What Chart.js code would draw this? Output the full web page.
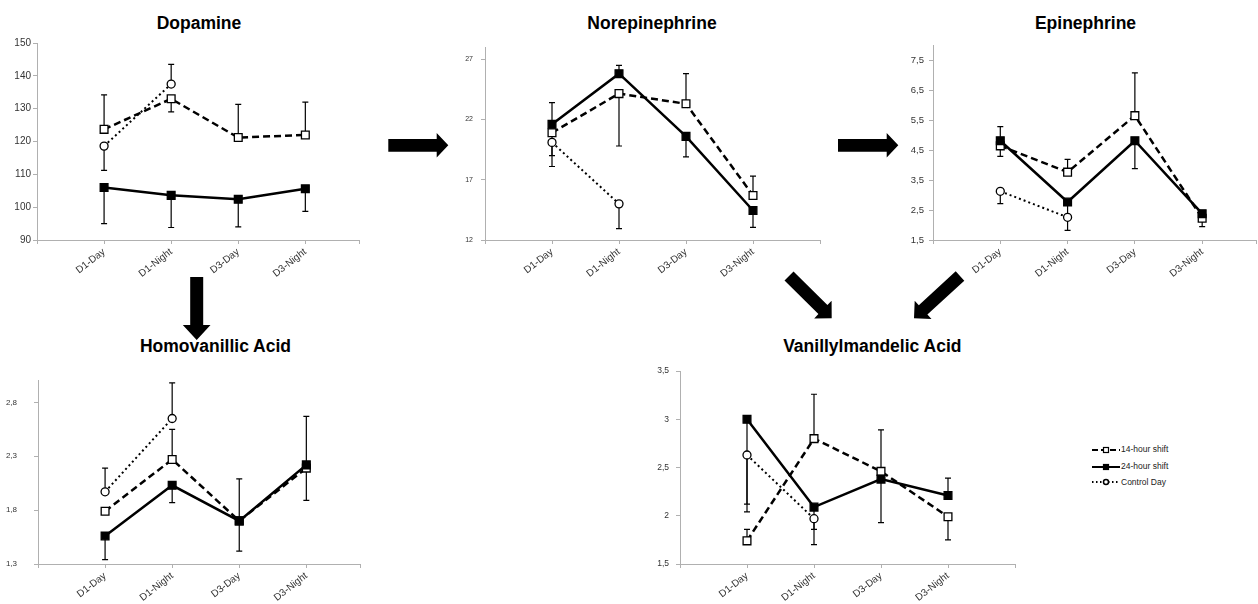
<!DOCTYPE html>
<html>
<head>
<meta charset="utf-8">
<script src="https://cdn.jsdelivr.net/npm/chart.js@4.4.1/dist/chart.umd.min.js"></script>
<style>
html, body { margin: 0; padding: 0; width: 1258px; height: 604px; overflow: hidden; background: #fff; font-family: "Liberation Sans", Arial, sans-serif; }
canvas, .title, .legend, svg { position: absolute; }
.title { width: 400px; text-align: center; font-weight: bold; font-size: 17.5px; line-height: 20px; color: #000; white-space: nowrap; }
.legend { font-size: 8.5px; color: #222; }
.legend div { position: absolute; left: 0; white-space: nowrap; height: 12px; line-height: 12px; }
.legend svg { position: static; vertical-align: middle; margin-right: 1px; }
</style>
</head>
<body>
<svg id="arrows" width="1258" height="604" style="left:0;top:0"></svg>
<script>
// categories and series
const categories = ['D1-Day', 'D1-Night', 'D3-Day', 'D3-Night'];
const seriesNames = ['14-hour shift', '24-hour shift', 'Control Day'];

// Dopamine
const dopamine14 = [123.7, 133.0, 121.2, 122.0];
const dopamine24 = [106.0, 103.6, 102.4, 105.6];
const dopamineCtrl = [118.6, 137.5];
const dopamine14Err = [[null, 134.2], [129.0, null], [null, 131.3], [null, 132.0]];
const dopamine24Err = [[95.0, null], [93.8, null], [94.0, null], [98.7, null]];
const dopamineCtrlErr = [[111.2, null], [null, 143.5]];
const dopamineTicks = [90, 100, 110, 120, 130, 140, 150];

// Norepinephrine
const norepi14 = [20.9, 24.15, 23.3, 15.7];
const norepi24 = [21.6, 25.8, 20.6, 14.45];
const norepiCtrl = [20.1, 15.0];
const norepi14Err = [[19.0, null], [19.8, null], [null, 25.8], [null, 17.3]];
const norepi24Err = [[null, 23.4], [null, 26.5], [18.9, null], [13.05, null]];
const norepiCtrlErr = [[18.1, null], [12.95, null]];
const norepiTicks = [12, 17, 22, 27];

// Epinephrine
const epi14 = [4.65, 3.77, 5.66, 2.23];
const epi24 = [4.82, 2.77, 4.82, 2.38];
const epiCtrl = [3.13, 2.26];
const epi14Err = [[4.3, null], [null, 4.2], [null, 7.09], [1.95, null]];
const epi24Err = [[null, 5.29], [2.3, null], [3.89, null], null];
const epiCtrlErr = [[2.72, null], [1.82, null]];
const epiTicks = [1.5, 2.5, 3.5, 4.5, 5.5, 6.5, 7.5];

// Homovanillic Acid
const hva14 = [1.79, 2.27, 1.70, 2.19];
const hva24 = [1.56, 2.03, 1.70, 2.22];
const hvaCtrl = [1.97, 2.65];
const hva14Err = [null, [null, 2.55], [null, 2.09], [null, 2.67]];
const hva24Err = [[1.34, null], [1.87, null], [1.42, null], [1.89, null]];
const hvaCtrlErr = [[null, 2.19], [null, 2.98]];
const hvaTicks = [1.3, 1.8, 2.3, 2.8];

// Vanillylmandelic Acid
const vma14 = [1.74, 2.80, 2.46, 1.99];
const vma24 = [3.00, 2.09, 2.38, 2.21];
const vmaCtrl = [2.63, 1.97];
const vma14Err = [[null, 1.86], [null, 3.26], [null, 2.89], [1.75, null]];
const vma24Err = [[2.12, null], [1.86, null], [1.93, null], [null, 2.39]];
const vmaCtrlErr = [[2.04, null], [1.70, null]];
const vmaTicks = [1.5, 2, 2.5, 3, 3.5];

const FONT = '"Liberation Sans", Arial, sans-serif';
const AXIS_COLOR = '#b0b0b0';
const LABEL_COLOR = '#333';
const YW = 42, PAD_TOP = 8, PAD_RIGHT = 14;

const seriesStyle = [
  { dash: [7, 4], width: 2.5, point: 'rect', radius: 5.5, fill: '#fff' },
  { dash: [], width: 2.5, point: 'rect', radius: 5.5, fill: '#000' },
  { dash: [2, 3], width: 2, point: 'circle', radius: 4, fill: '#fff' }
];

const panels = [
  { title: 'Dopamine', values: [dopamine14, dopamine24, dopamineCtrl], errors: [dopamine14Err, dopamine24Err, dopamineCtrlErr],
    yTicks: dopamineTicks, yMin: 90, yMax: 150, x0: 37, unit: 67, xMax: 4.8, y0: 43, y1: 240, xh: 50,
    tickSize: 10, tickPad: 2, titleX: 199, titleY: 23 },
  { title: 'Norepinephrine', values: [norepi14, norepi24, norepiCtrl], errors: [norepi14Err, norepi24Err, norepiCtrlErr],
    yTicks: norepiTicks, yMin: 12, yMax: 28, x0: 485.3, unit: 67, xMax: 5, y0: 43, y1: 240, xh: 50,
    tickSize: 7, tickPad: 8, titleX: 652, titleY: 23 },
  { title: 'Epinephrine', values: [epi14, epi24, epiCtrl], errors: [epi14Err, epi24Err, epiCtrlErr],
    yTicks: epiTicks, yMin: 1.5, yMax: 8, x0: 933, unit: 67.2, xMax: 4.8, y0: 43, y1: 240, xh: 50,
    tickSize: 9.5, tickPad: 5, titleX: 1085.5, titleY: 23 },
  { title: 'Homovanillic Acid', values: [hva14, hva24, hvaCtrl], errors: [hva14Err, hva24Err, hvaCtrlErr],
    yTicks: hvaTicks, yMin: 1.3, yMax: 3.0, x0: 37.7, unit: 67, xMax: 4.8, y0: 367, y1: 564, xh: 40,
    tickSize: 8, tickPad: 17, titleX: 215.5, titleY: 346 },
  { title: 'Vanillylmandelic Acid', values: [vma14, vma24, vmaCtrl], errors: [vma14Err, vma24Err, vmaCtrlErr],
    yTicks: vmaTicks, yMin: 1.5, yMax: 3.5, x0: 680, unit: 67, xMax: 5, y0: 367.3, y1: 564, xh: 40,
    tickSize: 8.5, tickPad: 7, titleX: 872.3, titleY: 346 }
];

// error bars, drawn under the lines and markers
const errorBarPlugin = {
  id: 'errorBars',
  beforeDatasetsDraw(chart) {
    const ctx = chart.ctx;
    const xs = chart.scales.x, ys = chart.scales.y;
    ctx.save();
    ctx.strokeStyle = '#000';
    ctx.lineWidth = 1.2;
    chart.data.datasets.forEach(ds => {
      (ds.errorBars || []).forEach((e, i) => {
        if (!e || !ds.data[i]) return;
        const px = xs.getPixelForValue(ds.data[i].x);
        const py = ys.getPixelForValue(ds.data[i].y);
        e.forEach(end => {
          if (end === null) return;
          const pe = ys.getPixelForValue(end);
          ctx.beginPath();
          ctx.moveTo(px, py);
          ctx.lineTo(px, pe);
          ctx.moveTo(px - 3, pe);
          ctx.lineTo(px + 3, pe);
          ctx.stroke();
        });
      });
    });
    ctx.restore();
  }
};

panels.forEach(p => {
  const x1 = p.x0 + p.unit * p.xMax;
  const left = p.x0 - YW;
  const top = p.y0 - PAD_TOP;
  const canvas = document.createElement('canvas');
  canvas.width = Math.round(x1 + PAD_RIGHT - left);
  canvas.height = Math.round(p.y1 + p.xh - top);
  canvas.style.left = left + 'px';
  canvas.style.top = top + 'px';
  canvas.style.width = canvas.width + 'px';
  canvas.style.height = canvas.height + 'px';
  document.body.appendChild(canvas);

  const datasets = p.values.map((vals, s) => ({
    label: seriesNames[s],
    data: vals.map((v, i) => ({ x: i + 1, y: v })),
    errorBars: p.errors[s],
    borderColor: '#000',
    borderWidth: seriesStyle[s].width,
    borderDash: seriesStyle[s].dash,
    pointStyle: seriesStyle[s].point,
    pointRadius: seriesStyle[s].radius,
    pointBackgroundColor: seriesStyle[s].fill,
    pointBorderColor: '#000',
    pointBorderWidth: 1.3,
    tension: 0,
    fill: false
  }));
  // control line drawn under the shift lines
  datasets.reverse();

  new Chart(canvas.getContext('2d'), {
    type: 'line',
    data: { datasets },
    options: {
      responsive: false,
      animation: false,
      layout: { padding: { top: PAD_TOP, right: PAD_RIGHT, left: 0, bottom: 0 } },
      plugins: { legend: { display: false }, title: { display: false }, tooltip: { enabled: false } },
      scales: {
        x: {
          type: 'linear', min: 0, max: p.xMax,
          afterBuildTicks: s => { s.ticks = [0, 1, 2, 3, 4, p.xMax].map(v => ({ value: v })); },
          afterFit: s => { s.height = p.xh; },
          grid: { display: true, drawOnChartArea: false, drawTicks: true, tickLength: 4, color: AXIS_COLOR },
          border: { display: true, color: AXIS_COLOR, width: 1 },
          ticks: {
            autoSkip: false, minRotation: 38, maxRotation: 38, padding: 2,
            color: LABEL_COLOR, font: { size: 10, family: FONT },
            callback: v => categories[v - 1] || ''
          }
        },
        y: {
          type: 'linear', min: p.yMin, max: p.yMax,
          afterBuildTicks: s => { s.ticks = p.yTicks.map(v => ({ value: v })); },
          afterFit: s => { s.width = YW; },
          grid: { display: true, drawOnChartArea: false, drawTicks: true, tickLength: 4, color: AXIS_COLOR },
          border: { display: true, color: AXIS_COLOR, width: 1 },
          ticks: {
            padding: p.tickPad, color: LABEL_COLOR, font: { size: p.tickSize, family: FONT },
            callback: v => String(v).replace('.', ',')
          }
        }
      }
    },
    plugins: [errorBarPlugin]
  });

  const t = document.createElement('div');
  t.className = 'title';
  t.textContent = p.title;
  t.style.left = (p.titleX - 200) + 'px';
  t.style.top = (p.titleY - 10) + 'px';
  document.body.appendChild(t);
});

// legend
const legend = document.createElement('div');
legend.className = 'legend';
legend.style.left = '1092px';
legend.style.top = '0px';
const legendRows = [449.3, 466, 481.7];
seriesNames.forEach((name, s) => {
  const st = seriesStyle[s];
  const row = document.createElement('div');
  row.style.top = (legendRows[s] - 6) + 'px';
  const dash = st.dash.length ? ' stroke-dasharray="' + (s === 0 ? '6,3' : '1.5,2.5') + '"' : '';
  const mark = st.point === 'rect'
    ? '<rect x="11.5" y="2.5" width="5" height="5" fill="' + st.fill + '" stroke="#000" stroke-width="1.2"/>'
    : '<circle cx="14" cy="5" r="2.5" fill="#fff" stroke="#000" stroke-width="1.5"/>';
  row.innerHTML = '<svg width="28" height="10"><line x1="0" y1="5" x2="28" y2="5" stroke="#000" stroke-width="' +
    (s === 2 ? 1.8 : 2) + '"' + dash + '/>' + mark + '</svg>' + name;
  legend.appendChild(row);
});
document.body.appendChild(legend);

// block arrows between the panels
function arrow(x1, y1, x2, y2, sw, hw, hl) {
  const len = Math.hypot(x2 - x1, y2 - y1);
  const dx = (x2 - x1) / len, dy = (y2 - y1) / len;
  const nx = -dy, ny = dx;
  const bx = x2 - dx * hl, by = y2 - dy * hl;
  const pts = [
    [x1 + nx * sw / 2, y1 + ny * sw / 2],
    [bx + nx * sw / 2, by + ny * sw / 2],
    [bx + nx * hw / 2, by + ny * hw / 2],
    [x2, y2],
    [bx - nx * hw / 2, by - ny * hw / 2],
    [bx - nx * sw / 2, by - ny * sw / 2],
    [x1 - nx * sw / 2, y1 - ny * sw / 2]
  ];
  const poly = document.createElementNS('http://www.w3.org/2000/svg', 'polygon');
  poly.setAttribute('points', pts.map(q => q[0].toFixed(1) + ',' + q[1].toFixed(1)).join(' '));
  poly.setAttribute('fill', '#000');
  document.getElementById('arrows').appendChild(poly);
}
arrow(388.3, 145.3, 448.3, 145.3, 12.7, 24.6, 11.6);
arrow(838, 145.3, 898.3, 145.3, 12.7, 24.6, 11.6);
arrow(196.7, 277, 196.7, 340, 13, 27.7, 15);
arrow(789, 276, 831.7, 318.3, 12.7, 24.8, 12.4);
arrow(960, 276, 914, 318.3, 12.7, 24.8, 12.4);
</script>
</body>
</html>
